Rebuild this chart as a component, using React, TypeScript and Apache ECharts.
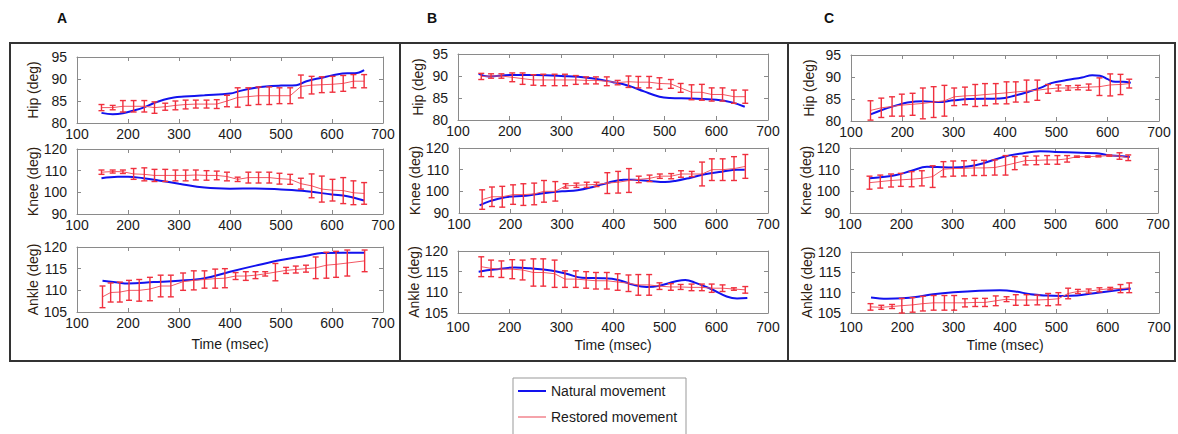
import React, { useEffect, useRef } from 'react';
import * as echarts from 'echarts';

const FONT = '"Liberation Sans", Arial, sans-serif';
const BLUE = '#1212ee';
const RED_LINE = '#f25864';
const RED_BAR = '#f0303e';
const LEGEND_PINK = '#f5a3aa';

// ---------- Panel A ----------
const timesA = [148, 170, 190, 211, 232, 252, 273, 293, 313, 333, 354, 374, 394, 415, 436, 456, 477, 497, 518, 539, 560, 580, 601, 622, 642, 663];
const timesAAnkle = [150, 166, 184, 202, 222, 243, 264, 284, 308, 329, 350, 371, 390, 411, 431, 450, 469, 489, 510, 529, 549, 568, 589, 608, 630, 664];

const hipAMean = [83.5, 83.5, 83.8, 83.8, 83.8, 83.5, 83.7, 84.0, 84.2, 84.3, 84.3, 84.3, 85.0, 85.8, 86.0, 86.2, 86.2, 86.2, 86.2, 88.3, 88.6, 88.7, 88.8, 89.0, 89.5, 89.5];
const hipAErr = [0.7, 0.5, 1.3, 1.3, 1.3, 1.3, 0.8, 1.0, 1.0, 0.9, 0.9, 1.0, 1.3, 2.2, 2.0, 2.0, 2.0, 1.8, 1.8, 2.6, 2.0, 1.8, 1.8, 1.8, 1.5, 1.5];
const hipABlueT = [148, 170, 190, 210, 230, 250, 270, 290, 310, 350, 400, 420, 450, 470, 500, 530, 550, 580, 600, 630, 645, 663];
const hipABlueV = [82.3, 82.0, 82.2, 82.8, 83.5, 84.5, 85.3, 85.8, 86.0, 86.3, 86.7, 87.3, 88.0, 88.3, 88.5, 88.6, 89.5, 90.3, 90.8, 91.3, 91.3, 92.0];

const kneeAMean = [109.3, 109.6, 109.5, 108.5, 108.3, 107.8, 107.8, 107.8, 107.8, 108.0, 107.8, 107.8, 107.3, 106.0, 106.8, 106.8, 106.8, 106.3, 106.0, 104.0, 103.0, 101.5, 101.0, 100.8, 99.8, 99.5];
const kneeAErr = [1.0, 0.7, 0.8, 2.5, 3.0, 2.8, 2.8, 2.5, 2.5, 2.3, 2.2, 2.0, 2.0, 1.0, 2.5, 2.5, 2.5, 2.5, 2.3, 2.5, 5.5, 6.0, 5.0, 6.0, 5.5, 5.0];
const kneeABlueT = [148, 180, 200, 230, 260, 300, 350, 400, 450, 500, 550, 600, 630, 663];
const kneeABlueV = [106.5, 107.2, 107.2, 106.5, 105.5, 104.0, 102.2, 101.7, 101.8, 101.3, 100.5, 99.0, 98.2, 96.2];

const ankleAMean = [108.5, 109.5, 109.6, 110.0, 110.0, 110.3, 111.0, 111.0, 112.0, 112.3, 112.5, 112.7, 112.8, 113.3, 113.3, 113.5, 113.8, 114.2, 114.6, 114.8, 115.0, 115.2, 115.8, 116.0, 116.3, 116.8];
const ankleAErr = [2.5, 2.2, 2.3, 2.3, 2.5, 2.7, 2.5, 2.5, 2.0, 2.2, 2.0, 2.2, 2.2, 0.8, 1.0, 0.8, 0.5, 2.0, 0.7, 0.8, 0.8, 2.5, 3.0, 3.0, 3.0, 2.5];
const ankleABlueT = [150, 180, 200, 250, 300, 350, 400, 450, 500, 550, 580, 620, 664];
const ankleABlueV = [112.2, 111.8, 111.6, 111.9, 112.2, 112.8, 114.3, 115.7, 117.0, 118.0, 118.6, 118.7, 118.7];

// ---------- Panel B ----------
const timesB = [145, 164, 184, 205, 225, 246, 265, 287, 307, 328, 348, 367, 388, 409, 430, 449, 470, 490, 512, 531, 552, 572, 591, 612, 634, 656];

const hipBMean = [89.9, 90.0, 90.0, 89.7, 89.4, 89.1, 89.1, 89.1, 89.1, 89.1, 89.0, 89.0, 88.8, 88.5, 88.7, 88.6, 88.6, 88.3, 88.2, 87.3, 86.3, 86.3, 85.8, 85.8, 85.3, 85.3];
const hipBErr = [0.7, 0.5, 0.5, 1.0, 1.3, 1.2, 1.3, 1.3, 1.3, 1.0, 0.8, 0.8, 1.0, 0.5, 1.3, 1.3, 1.3, 1.3, 1.0, 1.0, 1.7, 1.8, 1.5, 1.5, 1.5, 1.5];
const hipBBlueT = [140, 160, 200, 250, 300, 350, 400, 430, 460, 490, 510, 550, 600, 630, 655];
const hipBBlueV = [90.5, 89.9, 90.2, 90.2, 90.0, 89.6, 88.6, 87.8, 86.5, 85.3, 85.0, 84.9, 84.6, 84.0, 83.0];

const kneeBMean = [96.2, 97.5, 97.5, 98.5, 98.5, 98.8, 100.0, 100.0, 102.5, 102.8, 103.0, 103.2, 103.8, 104.2, 105.0, 105.5, 106.0, 107.0, 107.0, 108.0, 108.0, 108.0, 110.0, 110.0, 110.5, 111.5];
const kneeBErr = [4.5, 4.5, 4.8, 4.5, 5.0, 5.0, 5.0, 4.5, 1.0, 1.0, 1.2, 1.0, 4.8, 5.0, 5.5, 1.5, 1.5, 1.0, 1.2, 1.5, 1.2, 5.5, 5.0, 5.0, 5.5, 5.5];
const kneeBBlueT = [140, 160, 190, 230, 260, 300, 330, 360, 390, 420, 440, 470, 500, 520, 550, 580, 610, 640, 655];
const kneeBBlueV = [93.5, 95.5, 97.3, 98.0, 99.0, 100.0, 100.5, 102.0, 104.0, 105.3, 105.3, 104.8, 104.3, 104.8, 106.3, 108.0, 109.0, 110.0, 110.0];

const ankleBMean = [116.2, 115.8, 115.6, 115.6, 115.4, 114.8, 114.8, 114.5, 113.2, 113.2, 113.0, 112.8, 112.8, 112.5, 112.2, 111.8, 111.8, 111.5, 111.3, 111.3, 111.2, 111.2, 111.0, 111.0, 110.8, 110.6];
const ankleBErr = [2.4, 2.0, 2.0, 2.3, 2.4, 3.3, 3.3, 3.3, 2.0, 2.0, 2.0, 2.0, 2.0, 2.0, 2.0, 2.5, 2.5, 0.8, 0.8, 0.6, 0.8, 0.8, 1.0, 0.8, 0.3, 0.8];
const ankleBBlueT = [140, 170, 210, 240, 280, 310, 340, 380, 410, 440, 465, 490, 520, 540, 560, 590, 620, 640, 660];
const ankleBBlueV = [115.0, 115.5, 116.0, 115.8, 115.3, 114.5, 113.5, 113.4, 113.0, 111.8, 111.3, 111.6, 112.6, 113.0, 112.3, 110.8, 109.0, 108.5, 108.6];

// ---------- Panel C ----------
const timesC = [138, 159, 180, 199, 220, 240, 261, 282, 301, 322, 342, 361, 382, 403, 421, 442, 463, 484, 504, 523, 542, 563, 584, 605, 625, 642];

const hipCMean = [82.4, 83.0, 83.3, 83.6, 83.8, 84.0, 84.3, 84.6, 85.5, 85.7, 85.8, 86.0, 86.2, 86.4, 86.6, 86.8, 87.0, 87.3, 87.5, 87.5, 87.6, 87.7, 87.8, 88.2, 88.3, 88.5];
const hipCErr = [2.2, 2.2, 2.2, 2.5, 2.5, 3.5, 3.5, 3.5, 2.0, 2.0, 2.5, 2.5, 2.3, 2.5, 2.3, 2.5, 2.3, 1.0, 0.7, 0.5, 0.5, 0.7, 2.0, 2.5, 2.3, 1.0];
const hipCBlueT = [138, 160, 190, 210, 240, 270, 300, 330, 390, 420, 450, 470, 490, 520, 550, 570, 585, 600, 610, 630, 645];
const hipCBlueV = [81.5, 82.5, 83.6, 84.2, 84.5, 84.3, 84.7, 85.0, 85.1, 85.8, 86.8, 87.6, 88.6, 89.3, 89.9, 90.4, 90.3, 89.5, 89.0, 88.9, 88.7];

const kneeCMean = [104.0, 104.5, 105.0, 105.3, 105.6, 106.0, 106.8, 110.2, 110.5, 110.6, 110.8, 110.8, 111.0, 112.0, 113.0, 114.2, 114.3, 114.5, 114.5, 115.0, 116.0, 116.0, 116.2, 116.5, 116.3, 115.5];
const kneeCErr = [3.0, 3.0, 3.0, 3.0, 3.5, 3.5, 5.0, 3.5, 3.5, 3.5, 3.5, 3.5, 3.5, 4.5, 3.0, 2.0, 2.0, 2.0, 2.0, 1.5, 0.3, 0.3, 0.3, 0.3, 1.5, 1.3];
const kneeCBlueT = [138, 160, 190, 220, 250, 270, 300, 330, 360, 400, 430, 470, 500, 550, 580, 600, 630, 645];
const kneeCBlueV = [106.0, 106.5, 107.5, 109.5, 111.3, 111.2, 111.0, 111.5, 113.0, 116.0, 117.3, 118.5, 118.2, 117.8, 117.6, 116.8, 116.2, 115.8];

const ankleCMean = [106.5, 106.4, 106.6, 106.8, 107.0, 107.3, 107.5, 107.5, 107.5, 107.5, 107.6, 107.6, 108.0, 108.4, 108.2, 108.2, 108.2, 108.3, 108.5, 109.8, 110.3, 110.4, 110.7, 111.0, 111.0, 111.2];
const ankleCErr = [0.8, 0.5, 0.5, 1.8, 1.8, 1.8, 1.8, 1.8, 1.8, 1.0, 1.0, 1.0, 1.2, 0.6, 1.3, 1.3, 1.2, 1.5, 1.5, 1.3, 0.5, 0.5, 0.5, 0.3, 1.0, 1.2];
const ankleCBlueT = [139, 170, 200, 230, 260, 300, 350, 390, 420, 450, 480, 510, 540, 570, 600, 645];
const ankleCBlueV = [108.8, 108.5, 108.6, 109.0, 109.6, 110.1, 110.5, 110.6, 110.3, 109.6, 109.3, 109.2, 109.3, 109.8, 110.3, 111.0];

const xTicks = { min: 100, max: 700, interval: 100 };
const hipRange = { min: 80, max: 95, interval: 5 };
const kneeRange = { min: 90, max: 120, interval: 10 };
const ankleRange = { min: 105, max: 120, interval: 5 };

type Sub = {
  grid: { left: number; top: number; width: number; height: number };
  yName: string;
  range: { min: number; max: number; interval: number };
  t: number[]; mean: number[]; err: number[]; bt: number[]; bv: number[];
  xName?: boolean; labelMargin?: number; nameGap: number;
};

const subs: Sub[] = [
  { grid: { left: 77, top: 57, width: 306, height: 66 }, yName: 'Hip (deg)', range: hipRange, t: timesA, mean: hipAMean, err: hipAErr, bt: hipABlueT, bv: hipABlueV, nameGap: 37 },
  { grid: { left: 77, top: 149, width: 306, height: 65 }, yName: 'Knee (deg)', range: kneeRange, t: timesA, mean: kneeAMean, err: kneeAErr, bt: kneeABlueT, bv: kneeABlueV, nameGap: 37 },
  { grid: { left: 77, top: 247, width: 306, height: 65 }, yName: 'Ankle (deg)', range: ankleRange, t: timesAAnkle, mean: ankleAMean, err: ankleAErr, bt: ankleABlueT, bv: ankleABlueV, xName: true, nameGap: 37 },
  { grid: { left: 458, top: 54, width: 310, height: 66 }, yName: 'Hip (deg)', range: hipRange, t: timesB, mean: hipBMean, err: hipBErr, bt: hipBBlueT, bv: hipBBlueV, nameGap: 33 },
  { grid: { left: 459, top: 148, width: 309, height: 65 }, yName: 'Knee (deg)', range: kneeRange, t: timesB, mean: kneeBMean, err: kneeBErr, bt: kneeBBlueT, bv: kneeBBlueV, nameGap: 34 },
  { grid: { left: 458, top: 251, width: 310, height: 62 }, yName: 'Ankle (deg)', range: ankleRange, t: timesB, mean: ankleBMean, err: ankleBErr, bt: ankleBBlueT, bv: ankleBBlueV, xName: true, labelMargin: 7, nameGap: 35 },
  { grid: { left: 851, top: 55, width: 308, height: 66 }, yName: 'Hip (deg)', range: hipRange, t: timesC, mean: hipCMean, err: hipCErr, bt: hipCBlueT, bv: hipCBlueV, nameGap: 35 },
  { grid: { left: 850, top: 148, width: 308, height: 65 }, yName: 'Knee (deg)', range: kneeRange, t: timesC, mean: kneeCMean, err: kneeCErr, bt: kneeCBlueT, bv: kneeCBlueV, nameGap: 35 },
  { grid: { left: 851, top: 252, width: 308, height: 61 }, yName: 'Ankle (deg)', range: ankleRange, t: timesC, mean: ankleCMean, err: ankleCErr, bt: ankleCBlueT, bv: ankleCBlueV, xName: true, labelMargin: 7, nameGap: 36 },
];

function buildOption() {
  const grid: any[] = [];
  const xAxis: any[] = [];
  const yAxis: any[] = [];
  const series: any[] = [];
  const axisLineStyle = { lineStyle: { color: '#8a8a8a', width: 1 } };
  const tickStyle = { show: true, inside: true, length: 4, lineStyle: { color: '#8a8a8a' } };
  subs.forEach((s, k) => {
    grid.push({ ...s.grid, show: false });
    xAxis.push({
      type: 'value', gridIndex: k, position: 'bottom', ...xTicks,
      axisLine: { show: true, onZero: false, ...axisLineStyle },
      axisTick: tickStyle,
      splitLine: { show: false },
      axisLabel: { color: '#1a1a1a', fontSize: 14, fontFamily: FONT, margin: s.labelMargin ?? 4 },
      name: s.xName ? 'Time (msec)' : '',
      nameLocation: 'middle', nameGap: s.xName ? 25 : 0,
      nameTextStyle: { color: '#1a1a1a', fontSize: 14, fontFamily: FONT },
    });
    xAxis.push({
      type: 'value', gridIndex: k, position: 'top', ...xTicks,
      axisLine: { show: true, onZero: false, ...axisLineStyle },
      axisTick: tickStyle, splitLine: { show: false }, axisLabel: { show: false },
    });
    yAxis.push({
      type: 'value', gridIndex: k, position: 'left', ...s.range,
      axisLine: { show: true, onZero: false, ...axisLineStyle },
      axisTick: tickStyle, splitLine: { show: false },
      axisLabel: { color: '#1a1a1a', fontSize: 14, fontFamily: FONT, margin: 10 },
      name: s.yName, nameLocation: 'middle', nameGap: s.nameGap,
      nameTextStyle: { color: '#2e2010', fontSize: 14, fontFamily: FONT },
    });
    yAxis.push({
      type: 'value', gridIndex: k, position: 'right', ...s.range,
      axisLine: { show: true, onZero: false, ...axisLineStyle },
      axisTick: tickStyle, splitLine: { show: false }, axisLabel: { show: false },
    });
    series.push({
      name: 'Natural movement', type: 'line', xAxisIndex: 2 * k, yAxisIndex: 2 * k,
      data: s.bt.map((t, i) => [t, s.bv[i]]), smooth: 0.4, showSymbol: false, symbol: 'none',
      lineStyle: { color: BLUE, width: 2 }, itemStyle: { color: BLUE }, z: 3,
    });
    series.push({
      name: 'Restored movement', type: 'line', xAxisIndex: 2 * k, yAxisIndex: 2 * k,
      data: s.t.map((t, i) => [t, s.mean[i]]), showSymbol: false, symbol: 'none',
      lineStyle: { color: RED_LINE, width: 1 }, itemStyle: { color: RED_LINE }, z: 4,
    });
    series.push({
      name: 'errors', type: 'custom', xAxisIndex: 2 * k, yAxisIndex: 2 * k,
      data: s.t.map((t, i) => [t, s.mean[i] - s.err[i], s.mean[i] + s.err[i]]),
      encode: { x: 0, y: [1, 2] }, z: 5,
      renderItem: (_p: any, api: any) => {
        const x = api.value(0);
        const a = api.coord([x, api.value(1)]);
        const b = api.coord([x, api.value(2)]);
        const w = 3;
        const st = { stroke: RED_BAR, lineWidth: 1.4 };
        return {
          type: 'group',
          children: [
            { type: 'line', shape: { x1: a[0], y1: a[1], x2: b[0], y2: b[1] }, style: st },
            { type: 'line', shape: { x1: a[0] - w, y1: a[1], x2: a[0] + w, y2: a[1] }, style: st },
            { type: 'line', shape: { x1: b[0] - w, y1: b[1], x2: b[0] + w, y2: b[1] }, style: st },
          ],
        };
      },
    });
  });

  const graphic: any[] = [
    { type: 'rect', shape: { x: 10, y: 43, width: 1165, height: 318 }, style: { fill: 'none', stroke: '#333', lineWidth: 2 }, silent: true },
    { type: 'line', shape: { x1: 400, y1: 43, x2: 400, y2: 361 }, style: { stroke: '#333', lineWidth: 2 } },
    { type: 'line', shape: { x1: 788, y1: 43, x2: 788, y2: 361 }, style: { stroke: '#333', lineWidth: 2 } },
    { type: 'text', x: 62, y: 18, style: { text: 'A', fontSize: 14, fontWeight: 'bold', fontFamily: FONT, fill: '#111', align: 'center', verticalAlign: 'middle' } },
    { type: 'text', x: 432, y: 18, style: { text: 'B', fontSize: 14, fontWeight: 'bold', fontFamily: FONT, fill: '#111', align: 'center', verticalAlign: 'middle' } },
    { type: 'text', x: 829, y: 18, style: { text: 'C', fontSize: 14, fontWeight: 'bold', fontFamily: FONT, fill: '#111', align: 'center', verticalAlign: 'middle' } },
    { type: 'rect', shape: { x: 513, y: 378, width: 173, height: 70 }, style: { fill: '#fff', stroke: '#999', lineWidth: 1 }, z: -1 },
  ];

  return {
    animation: false,
    backgroundColor: '#fff',
    grid, xAxis, yAxis, series, graphic,
    legend: {
      orient: 'vertical', left: 518, top: 384, padding: 0,
      itemWidth: 28, itemHeight: 2, itemGap: 12, icon: 'rect',
      textStyle: { fontSize: 14, fontFamily: FONT, color: '#1a1a1a' },
      data: [
        { name: 'Natural movement', itemStyle: { color: BLUE } },
        { name: 'Restored movement', itemStyle: { color: LEGEND_PINK } },
      ],
      selectedMode: false,
    },
  };
}

export default function App() {
  const ref = useRef<HTMLDivElement>(null);
  useEffect(() => {
    if (!ref.current) return;
    const chart = echarts.init(ref.current, undefined, { renderer: 'svg' });
    chart.setOption(buildOption() as any);
    return () => chart.dispose();
  }, []);
  return <div ref={ref} style={{ position: 'fixed', left: 0, top: 0, width: 1178, height: 434 }} />;
}
